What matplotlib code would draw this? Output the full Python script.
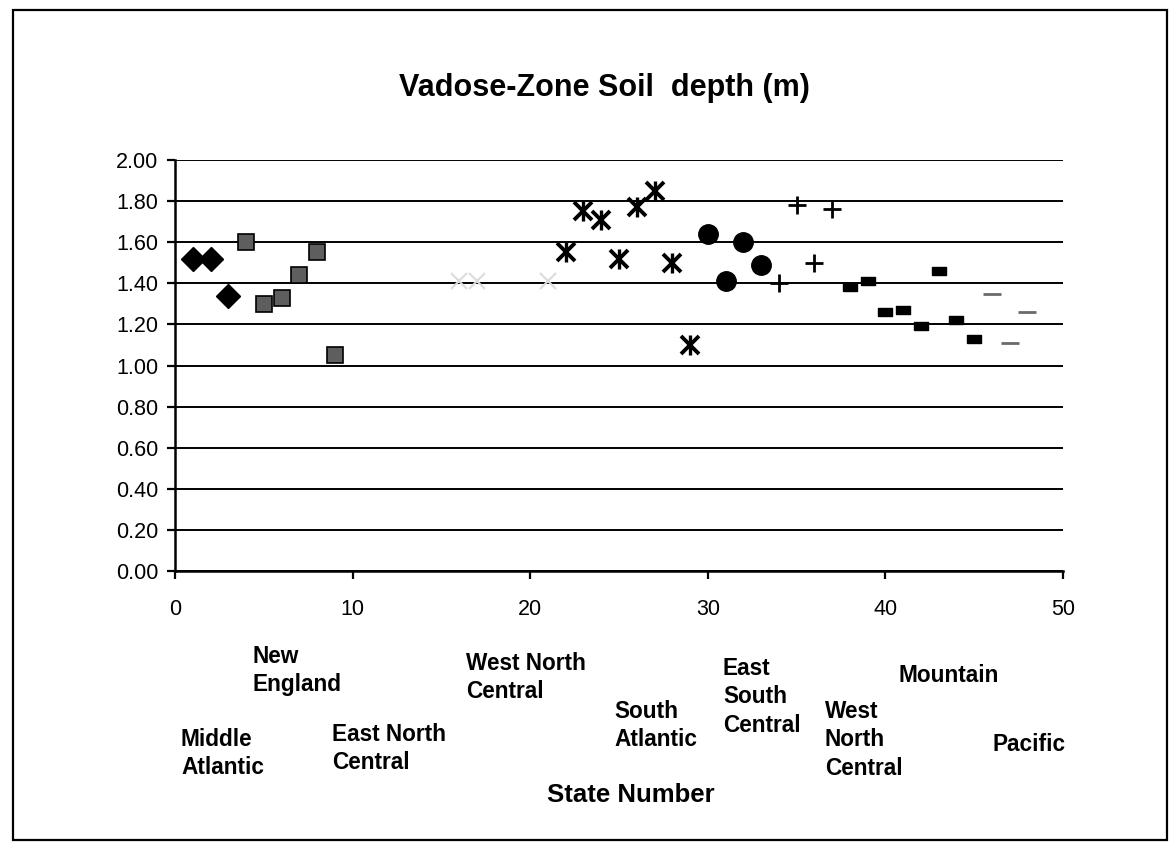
import matplotlib
matplotlib.use("Agg")
import matplotlib.pyplot as plt
from matplotlib.patches import Rectangle
import numpy as np

plt.rcParams['font.family'] = ['Liberation Sans', 'DejaVu Sans']

# ---- data (state number, soil depth in m) by region ----
mid_atl_x = [1, 2, 3]
mid_atl_y = [1.52, 1.52, 1.34]

new_eng_x = [4, 5, 6, 7, 8, 9]
new_eng_y = [1.60, 1.30, 1.33, 1.44, 1.55, 1.05]

wnc_x = [16, 17, 21]
wnc_y = [1.41, 1.41, 1.41]

s_atl_x = [22, 23, 24, 25, 26, 27, 28, 29]
s_atl_y = [1.55, 1.75, 1.71, 1.52, 1.77, 1.85, 1.50, 1.10]

esc_x = [30, 31, 32, 33]
esc_y = [1.64, 1.41, 1.60, 1.49]

wsc_x = [34, 35, 36, 37]
wsc_y = [1.40, 1.78, 1.50, 1.76]

mount_x = [38, 39, 40, 41, 42, 43, 44, 45]
mount_y = [1.38, 1.41, 1.26, 1.27, 1.19, 1.46, 1.22, 1.13]

pac_x = [46, 47, 48]
pac_y = [1.35, 1.11, 1.26]

region_labels = ["Middle\nAtlantic", "New\nEngland", "East North\nCentral",
                 "West North\nCentral", "South\nAtlantic", "East\nSouth\nCentral",
                 "West\nNorth\nCentral", "Mountain", "Pacific"]
# label anchor positions (figure pixels, left / first-line centre)
label_pos = [(181, 738), (253, 655), (332, 733), (466, 662), (614, 710),
             (723, 667), (825, 710), (898, 674), (993, 743)]

title = "Vadose-Zone Soil  depth (m)"
xlabel = "State Number"

W, H = 1176, 856
fig = plt.figure(figsize=(W / 100, H / 100), dpi=100)
ax = fig.add_axes([175 / W, 1 - 571 / H, 888 / W, 411 / H])

ax.set_xlim(0, 50)
ax.set_ylim(0, 2.0)
ax.set_xticks(np.arange(0, 51, 10))
ax.set_yticks(np.arange(0, 2.01, 0.2))
ax.set_yticklabels([f"{v:.2f}" for v in np.arange(0, 2.01, 0.2)])
ax.yaxis.grid(True, color='black', linewidth=1.4)
ax.set_axisbelow(True)
for s in ['top', 'right']:
    ax.spines[s].set_visible(False)
for s in ['left', 'bottom']:
    ax.spines[s].set_linewidth(1.8)
ax.tick_params(axis='both', direction='out', length=6, width=1.6,
               labelsize=15.5)
ax.tick_params(axis='x', pad=14)
ax.tick_params(axis='y', pad=6)

# markers
ax.plot(mid_atl_x, mid_atl_y, linestyle='none', marker='D', markersize=12,
        color='black', zorder=3)
ax.plot(new_eng_x, new_eng_y, linestyle='none', marker='s', markersize=11,
        markerfacecolor='#5e5e5e', markeredgecolor='black', markeredgewidth=1.2,
        zorder=3)
ax.plot(wnc_x, wnc_y, linestyle='none', marker='x', markersize=12,
        color='#dcdcdc', markeredgewidth=1.5, zorder=3)
ax.plot(s_atl_x, s_atl_y, linestyle='none', marker='x', markersize=13,
        color='black', markeredgewidth=2.8, zorder=3)
ax.plot(s_atl_x, s_atl_y, linestyle='none', marker='|', markersize=15,
        color='black', markeredgewidth=2.4, zorder=3)
ax.plot(esc_x, esc_y, linestyle='none', marker='o', markersize=14,
        color='black', zorder=3)
ax.plot(wsc_x, wsc_y, linestyle='none', marker='+', markersize=13,
        color='black', markeredgewidth=2.0, zorder=3)
rect_marker = [(-1, -0.6), (1, -0.6), (1, 0.6), (-1, 0.6), (-1, -0.6)]
ax.plot(mount_x, mount_y, linestyle='none', marker=rect_marker, markersize=9.5,
        color='black', zorder=3)
ax.plot(pac_x, pac_y, linestyle='none', marker='_', markersize=13,
        color='#6a6a6a', markeredgewidth=2.0, zorder=3)

# texts
fig.text(604 / W, 1 - 88 / H, title, ha='center', va='center',
         fontsize=22, fontweight='bold')
fig.text(631 / W, 1 - 795 / H, xlabel, ha='center', va='center',
         fontsize=18.5, fontweight='bold')
for lab, (px, py) in zip(region_labels, label_pos):
    fig.text(px / W, 1 - (py - 10) / H, lab, ha='left', va='top', fontsize=16.3,
             fontweight='bold', linespacing=1.3)

# outer border
fig.patches.append(Rectangle((13 / W, 1 - 840 / H), (1167 - 13) / W, (840 - 10) / H,
                             transform=fig.transFigure, fill=False,
                             edgecolor='black', linewidth=1.6))

fig.savefig("out.png", dpi=100)
